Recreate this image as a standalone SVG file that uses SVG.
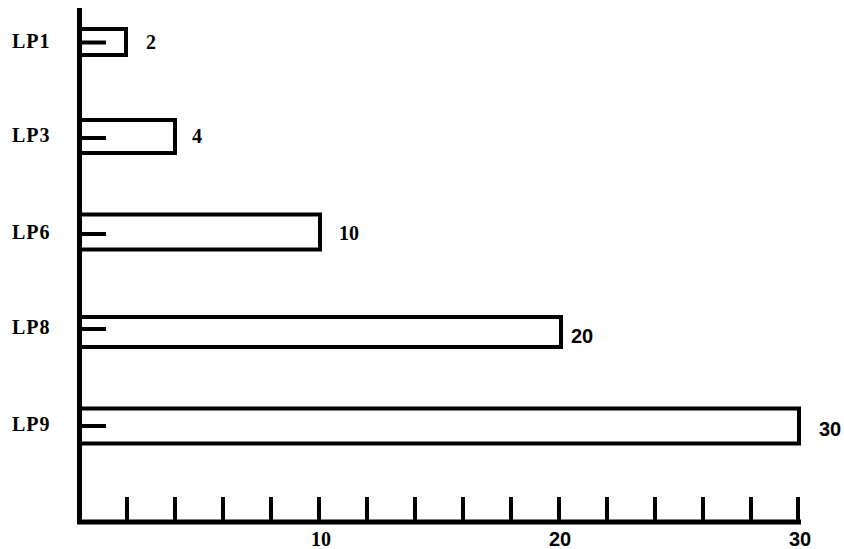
<svg xmlns="http://www.w3.org/2000/svg" width="844" height="549" viewBox="0 0 844 549">
<style>
  .bar { fill: #ffffff; stroke: #000; stroke-width: 4; }
  .dash { stroke: #000; stroke-width: 4; }
  .axis { stroke: #000; stroke-width: 5; fill: none; }
  .tick { stroke: #000; stroke-width: 4; }
  .lbl { font-family: "Liberation Serif", "Times New Roman", serif; font-weight: bold; font-size: 20px; fill: #000; }
  .name { letter-spacing: 1px; }
  .sans { font-family: "Liberation Sans", Arial, sans-serif; font-weight: bold; font-size: 20px; fill: #000; }
</style>
<rect width="844" height="549" fill="#ffffff"/>
<g id="axes">
  <line class="axis" x1="79.5" y1="8" x2="79.5" y2="524"/>
  <line class="axis" x1="77" y1="522" x2="801" y2="522"/>
  <g id="ticks">
    <line class="tick" x1="127" y1="497" x2="127" y2="522"/>
    <line class="tick" x1="175" y1="497" x2="175" y2="522"/>
    <line class="tick" x1="223" y1="497" x2="223" y2="522"/>
    <line class="tick" x1="271" y1="497" x2="271" y2="522"/>
    <line class="tick" x1="319" y1="497" x2="319" y2="522"/>
    <line class="tick" x1="367" y1="497" x2="367" y2="522"/>
    <line class="tick" x1="415" y1="497" x2="415" y2="522"/>
    <line class="tick" x1="463" y1="497" x2="463" y2="522"/>
    <line class="tick" x1="511" y1="497" x2="511" y2="522"/>
    <line class="tick" x1="559" y1="497" x2="559" y2="522"/>
    <line class="tick" x1="607" y1="497" x2="607" y2="522"/>
    <line class="tick" x1="655" y1="497" x2="655" y2="522"/>
    <line class="tick" x1="703" y1="497" x2="703" y2="522"/>
    <line class="tick" x1="751" y1="497" x2="751" y2="522"/>
    <line class="tick" x1="798" y1="497" x2="798" y2="522"/>
  </g>
  <text class="lbl" x="321" y="546" text-anchor="middle">10</text>
  <text class="sans" x="560" y="546" text-anchor="middle">20</text>
  <text class="sans" x="800" y="546" text-anchor="middle">30</text>
</g>
<g id="LP1">
  <rect class="bar" x="80" y="29" width="46" height="26"/>
  <line class="dash" x1="80" y1="42.5" x2="106" y2="42.5"/>
  <text class="lbl name" x="12" y="48">LP1</text>
  <text class="lbl" x="146" y="49">2</text>
</g>
<g id="LP3">
  <rect class="bar" x="80" y="120" width="95" height="33"/>
  <line class="dash" x1="80" y1="138" x2="106" y2="138"/>
  <text class="lbl name" x="12" y="142">LP3</text>
  <text class="lbl" x="192" y="143">4</text>
</g>
<g id="LP6">
  <rect class="bar" x="80" y="214.5" width="240" height="35"/>
  <line class="dash" x1="80" y1="234" x2="106" y2="234"/>
  <text class="lbl name" x="12" y="239">LP6</text>
  <text class="lbl" x="339" y="240">10</text>
</g>
<g id="LP8">
  <rect class="bar" x="80" y="317" width="481" height="30"/>
  <line class="dash" x1="80" y1="329" x2="106" y2="329"/>
  <text class="lbl name" x="12" y="334">LP8</text>
  <text class="sans" x="571" y="343">20</text>
</g>
<g id="LP9">
  <rect class="bar" x="80" y="408.5" width="719" height="35"/>
  <line class="dash" x1="80" y1="426" x2="106" y2="426"/>
  <text class="lbl name" x="12" y="431">LP9</text>
  <text class="sans" x="819" y="436">30</text>
</g>
</svg>
